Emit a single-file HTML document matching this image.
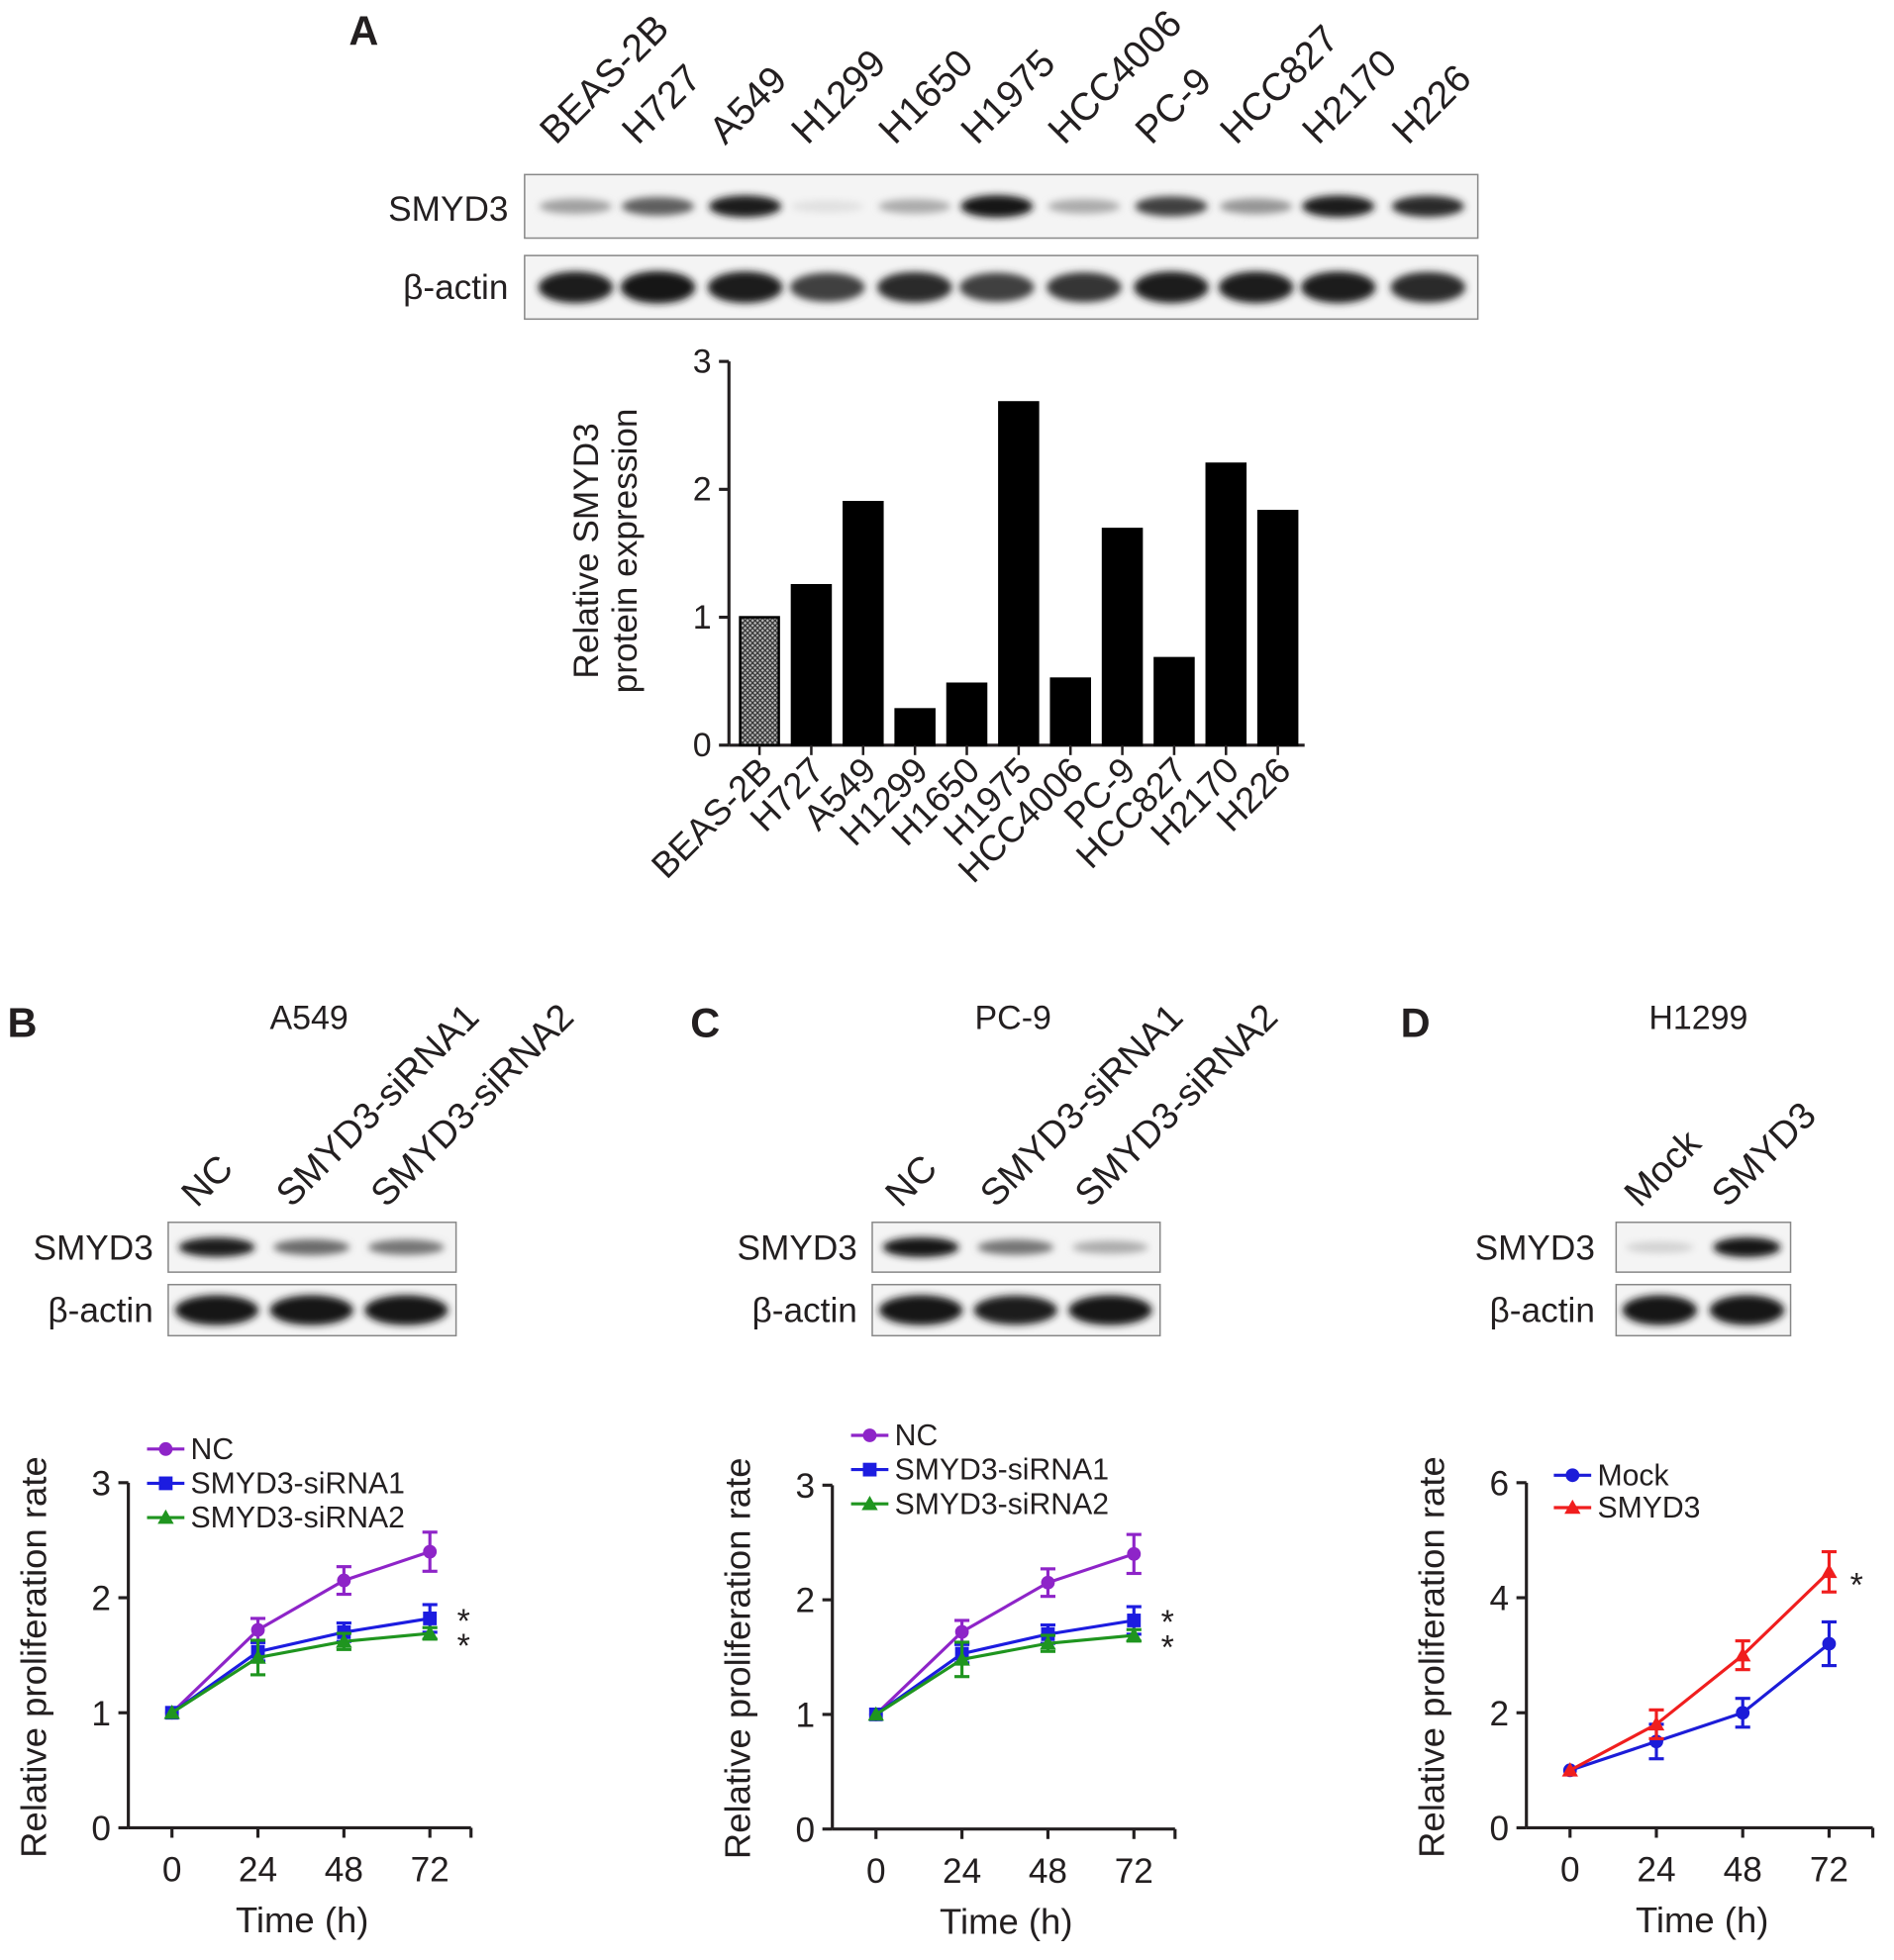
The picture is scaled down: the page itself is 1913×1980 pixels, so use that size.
<!DOCTYPE html>
<html><head><meta charset="utf-8"><style>
html,body{margin:0;padding:0;background:#fff}
svg{display:block}
text{font-family:"Liberation Sans",Arial,sans-serif;fill:#231f20}
</style></head><body>
<svg id="fig" width="1913" height="1980" viewBox="0 0 1520 1573" xmlns="http://www.w3.org/2000/svg">
<defs>
<filter id="blur" x="-20%" y="-50%" width="140%" height="200%"><feGaussianBlur stdDeviation="3"/></filter>
<pattern id="hatch" width="4" height="4" patternUnits="userSpaceOnUse"><rect width="4" height="4" fill="#bbb"/><path d="M0 0L4 4M4 0L0 4" stroke="#333" stroke-width="1"/></pattern>
</defs>
</svg>
<script>
// Panel A data
const cellLines = ["BEAS-2B","H727","A549","H1299","H1650","H1975","HCC4006","PC-9","HCC827","H2170","H226"];
const expression = [1.0,1.25,1.9,0.28,0.48,2.68,0.52,1.69,0.68,2.2,1.83];
const barTicks = [0,1,2,3];
const smydBand = [0.35,0.65,0.95,0.05,0.3,1.0,0.3,0.8,0.4,0.95,0.9];
const actinBand = [0.95,1.0,0.95,0.8,0.9,0.8,0.85,0.95,0.95,0.95,0.9];
// Panels B/C data
const times = [0,24,48,72];
const ncMean = [1,1.72,2.15,2.4];
const ncErr = [0,0.1,0.12,0.17];
const si1Mean = [1,1.53,1.7,1.82];
const si1Err = [0,0.08,0.08,0.12];
const si2Mean = [1,1.48,1.62,1.69];
const si2Err = [0,0.15,0.07,0.05];
const propTicks = [0,1,2,3];
// Panel D data
const mockMean = [1,1.5,2.0,3.2];
const mockErr = [0,0.3,0.25,0.38];
const smydMean = [1,1.8,3.0,4.45];
const smydErr = [0,0.25,0.25,0.35];
const dTicks = [0,2,4,6];

const NS="http://www.w3.org/2000/svg";
const svg=document.getElementById('fig');
function el(tag,attrs,parent,txt){const e=document.createElementNS(NS,tag);for(const k in attrs)e.setAttribute(k,attrs[k]);if(txt!==undefined)e.textContent=txt;(parent||svg).appendChild(e);return e;}
function grp(name){const g=el('g',{});return g;}

[["A",280,36],["B",6,832],["C",554,832],["D",1124,832]].forEach(p=>{
  const t=el('text',{x:p[1],y:p[2],'font-size':33,'font-weight':'bold'},null,p[0]);
  
  
});

// ---------- Panel A blot ----------
const laneX=[462,528,598,664,734,800,870,940,1008,1074,1146];
const gA=grp('panel-a-western-blot');
cellLines.forEach((c,i)=>{
  const t=el('text',{x:laneX[i]-16,y:117,'font-size':31,transform:`rotate(-45 ${laneX[i]-16} 117)`},gA,c);
  
  
});
function blot(g,x,y,w,h,lanes,ints,bw,bh,name){
  const r=el('rect',{x:x,y:y,width:w,height:h,fill:'#f4f4f4',stroke:'#888','stroke-width':1.2},g);
  
  
  lanes.forEach((lx,i)=>{
    const v=ints[i];
    const c=Math.round(20+(1-v)*215);
    const b=el('ellipse',{cx:lx,cy:y+h/2,rx:bw/2,ry:bh*(0.5+0.5*v)/2,fill:`rgb(${c},${c},${c})`,filter:'url(#blur)'},g);
    
    
  });
}
blot(gA,421,140,765,51,laneX,smydBand,58,18,'smyd3-blot-a');
blot(gA,421,205,765,51,laneX,actinBand,60,26,'actin-blot-a');
[["SMYD3",408,177],["β-actin",408,240]].forEach(l=>{const t=el('text',{x:l[1],y:l[2],'font-size':28,'text-anchor':'end'},gA,l[0]);});

// ---------- Panel A bar chart ----------
const gB=grp('panel-a-bar-chart');
const bx0=585,by0=598,byTop=290,bStep=41.6,bW=31;
const yB=v=>by0-(v/3)*(by0-byTop);
const xB=i=>bx0+9+i*bStep;
el('line',{x1:bx0,y1:byTop,x2:bx0,y2:by0,stroke:'#231f20','stroke-width':2.5},gB);
el('line',{x1:bx0,y1:by0,x2:1047,y2:by0,stroke:'#231f20','stroke-width':2.5},gB);
barTicks.forEach(t=>{
  el('line',{x1:bx0-8,y1:yB(t),x2:bx0,y2:yB(t),stroke:'#231f20','stroke-width':2.5},gB);
  const tt=el('text',{x:bx0-14,y:yB(t)+9,'font-size':27,'text-anchor':'end'},gB,t);
  
  
});
expression.forEach((v,i)=>{
  const r=el('rect',{x:xB(i),y:yB(v),width:bW,height:by0-yB(v),fill:i===0?'url(#hatch)':'#000',stroke:'#000','stroke-width':2},gB);
  
  
  const cx=xB(i)+bW/2;
  el('line',{x1:cx,y1:by0,x2:cx,y2:by0+8,stroke:'#231f20','stroke-width':2},gB);
  const t=el('text',{x:cx+12,y:by0+22,'font-size':29,'text-anchor':'end',transform:`rotate(-45 ${cx+12} ${by0+22})`},gB,cellLines[i]);
  
  
});
const yt=el('text',{'font-size':28,'text-anchor':'middle',transform:'translate(480 442) rotate(-90)'},gB);


el('tspan',{x:0,y:0},yt,'Relative SMYD3');
el('tspan',{x:0,y:31},yt,'protein expression');

// ---------- Bottom panels ----------
function smallBlot(g,x,lanes,names,smyd,actin,title,tx,labelX,prefix,laneW){
  const t=el('text',{x:tx,y:826,'font-size':27,'text-anchor':'middle'},g,title);
  
  
  names.forEach((n,i)=>{
    const lt=el('text',{x:lanes[i]-16,y:970,'font-size':30,transform:`rotate(-45 ${lanes[i]-16} 970)`},g,n);
    
    
  });
  const w=lanes.length*laneW;
  blot(g,x,981,w,40,lanes,smyd,laneW-16,16,prefix+'-smyd3-blot');
  blot(g,x,1031,w,41,lanes,actin,laneW-10,24,prefix+'-actin-blot');
  [["SMYD3",labelX,1011],["β-actin",labelX,1061]].forEach(l=>{const tt=el('text',{x:l[1],y:l[2],'font-size':28,'text-anchor':'end'},g,l[0]);});
}
const gBB=grp('panel-b-western-blot');
smallBlot(gBB,135,[174,250,326],["NC","SMYD3-siRNA1","SMYD3-siRNA2"],[0.95,0.6,0.55],[1,1,1],"A549",248,123,'b',77);
const gCB=grp('panel-c-western-blot');
smallBlot(gCB,700,[739,815,891],["NC","SMYD3-siRNA1","SMYD3-siRNA2"],[1,0.55,0.3],[1,0.95,1],"PC-9",813,688,'c',77);
const gDB=grp('panel-d-western-blot');
smallBlot(gDB,1297,[1332,1402],["Mock","SMYD3"],[0.12,1],[1,1],"H1299",1363,1280,'d',70);

function marker(g,type,x,y,color){
  let m;
  if(type==='circle')m=el('circle',{cx:x,cy:y,r:5.5,fill:color},g);
  else if(type==='square')m=el('rect',{x:x-5.5,y:y-5.5,width:11,height:11,fill:color},g);
  else m=el('path',{d:`M${x} ${y-6.5}L${x+6.5} ${y+5}L${x-6.5} ${y+5}Z`,fill:color},g);
  return m;
}
function lineChart(name,ax,y0,yTop,ymax,ticks,x0,xStep,axisEnd,series,legendX,legendY,legendGap,stars){
  const g=grp(name);
  const Y=v=>y0-(v/ymax)*(y0-yTop);
  const X=t=>x0+(t/24)*xStep;
  el('line',{x1:ax,y1:yTop,x2:ax,y2:y0,stroke:'#231f20','stroke-width':2.5},g);
  el('line',{x1:ax,y1:y0,x2:axisEnd,y2:y0,stroke:'#231f20','stroke-width':2.5},g);
  ticks.forEach(t=>{
    el('line',{x1:ax-8,y1:Y(t),x2:ax,y2:Y(t),stroke:'#231f20','stroke-width':2.5},g);
    const tt=el('text',{x:ax-14,y:Y(t)+10,'font-size':28,'text-anchor':'end'},g,t);
    
    
  });
  times.forEach(t=>{
    el('line',{x1:X(t),y1:y0,x2:X(t),y2:y0+8,stroke:'#231f20','stroke-width':2.5},g);
    const tt=el('text',{x:X(t),y:y0+43,'font-size':28,'text-anchor':'middle'},g,t);
    
    
  });
  el('line',{x1:axisEnd,y1:y0,x2:axisEnd,y2:y0+8,stroke:'#231f20','stroke-width':2.5},g);
  const xt=el('text',{x:(ax+axisEnd)/2+2,y:y0+84,'font-size':29,'text-anchor':'middle'},g,'Time (h)');
  
  
  const ytt=el('text',{'font-size':29,'text-anchor':'middle',transform:`translate(${ax-66} ${y0-137}) rotate(-90)`},g,'Relative proliferation rate');
  
  
  series.forEach((s,si)=>{
    const sg=el('g',{},g);
    
    
    const pts=s.mean.map((v,i)=>X(times[i])+','+Y(v)).join(' ');
    el('polyline',{points:pts,fill:'none',stroke:s.color,'stroke-width':2.5},sg);
    s.mean.forEach((v,i)=>{
      const x=X(times[i]),e=s.err[i];
      if(e>0){
        el('line',{x1:x,y1:Y(v+e),x2:x,y2:Y(v-e),stroke:s.color,'stroke-width':2.5},sg);
        el('line',{x1:x-6,y1:Y(v+e),x2:x+6,y2:Y(v+e),stroke:s.color,'stroke-width':2.5},sg);
        el('line',{x1:x-6,y1:Y(v-e),x2:x+6,y2:Y(v-e),stroke:s.color,'stroke-width':2.5},sg);
      }
      const m=marker(sg,s.marker,x,Y(v),s.color);
      
      
    });
    const ly=legendY+si*legendGap;
    const lg=el('g',{},g);
    
    
    el('line',{x1:legendX-15,y1:ly,x2:legendX+15,y2:ly,stroke:s.color,'stroke-width':2.5},lg);
    marker(lg,s.marker,legendX,ly,s.color);
    el('text',{x:legendX+20,y:ly+8,'font-size':24},lg,s.label);
  });
  stars.forEach(s=>{const t=el('text',{x:s[0],y:s[1],'font-size':27,'text-anchor':'middle'},g,'*');});
}
const bcSeries=[
  {label:"NC",mean:ncMean,err:ncErr,color:"#8e24c8",marker:'circle'},
  {label:"SMYD3-siRNA1",mean:si1Mean,err:si1Err,color:"#1c1ce0",marker:'square'},
  {label:"SMYD3-siRNA2",mean:si2Mean,err:si2Err,color:"#1f951f",marker:'triangle'}];
lineChart('panel-b-proliferation-chart',103,1467,1190,3,propTicks,138,69,378,bcSeries,133,1163,27.5,[[372,1310],[372,1330]]);
lineChart('panel-c-proliferation-chart',668,1468,1192,3,propTicks,703,69,943,bcSeries,698,1152,27.5,[[937,1311],[937,1331]]);
lineChart('panel-d-proliferation-chart',1225,1467,1190,6,dTicks,1260,69.3,1503,[
  {label:"Mock",mean:mockMean,err:mockErr,color:"#1c1cd8",marker:'circle'},
  {label:"SMYD3",mean:smydMean,err:smydErr,color:"#f01e1e",marker:'triangle'}],1262,1184,26,[[1490,1281]]);
</script>
</body></html>
